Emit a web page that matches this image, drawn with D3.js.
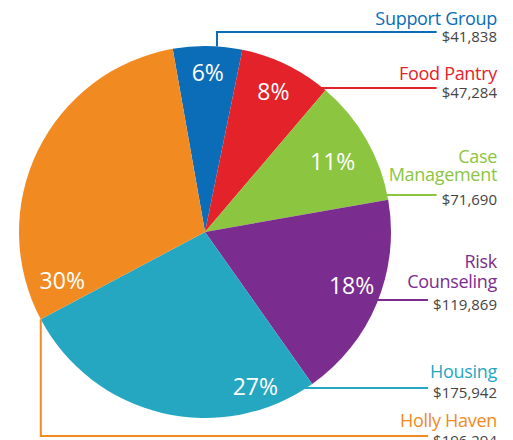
<!DOCTYPE html>
<html>
  <head>
    <script src="https://d3js.org/d3.v7.min.js"></script>
    <style>
      body { margin: 0; background: #fff; }
      text { font-family: "Open Sans", sans-serif; }
    </style>
  </head>
  <body>
    <script>
      // data
      var programs = ["Support Group", "Food Pantry", "Case Management", "Risk Counseling", "Housing", "Holly Haven"];
      var nameLines = [["Support Group"], ["Food Pantry"], ["Case", "Management"], ["Risk", "Counseling"], ["Housing"], ["Holly Haven"]];
      var amounts = [41838, 47284, 71690, 119869, 175942, 196294];
      var percents = [6, 8, 11, 18, 27, 30];
      var colors = ["#0b6db7", "#e3222a", "#8cc540", "#7a2d8e", "#26a7c1", "#f18b21"];

      var width = 513, height = 440;
      var cx = 205, cy = 232, r = 186;

      var svg = d3.select("body").append("svg")
        .attr("width", width)
        .attr("height", height);

      var rad = Math.PI / 180;
      var pie = d3.pie().sort(null)
        .startAngle(-10 * rad)
        .endAngle(350 * rad);
      var arcs = pie(percents);
      var arc = d3.arc().innerRadius(0).outerRadius(r);

      var g = svg.append("g").attr("transform", "translate(" + cx + "," + cy + ")");
      g.selectAll("path")
        .data(arcs)
        .enter()
        .append("path")
        .attr("d", arc)
        .attr("fill", function(d, i) { return colors[i]; });

      // percent labels: the picture places them by hand, so angle/radius per slice
      var labelAt = [[1, 159], [26, 156], [61, 146], [110, 156], [162, 163], [251, 151]];
      g.selectAll("text.pct")
        .data(arcs)
        .enter()
        .append("text")
        .attr("class", "pct")
        .attr("x", function(d, i) { return labelAt[i][1] * Math.sin(labelAt[i][0] * rad); })
        .attr("y", function(d, i) { return -labelAt[i][1] * Math.cos(labelAt[i][0] * rad); })
        .attr("dy", "0.36em")
        .attr("text-anchor", "middle")
        .attr("fill", "#fff")
        .attr("font-size", 23)
        .text(function(d) { return d.data + "%"; });

      // right-hand legend text and leader lines
      var textRight = 497;
      var nameBase = [[25], [80], [163, 181], [268, 288], [378], [427]];
      var lineY = [32, 88, 195, 300, 388, 436];
      var edgeX = function(y) { return cx + Math.sqrt(r * r - (y - cy) * (y - cy)); };
      var edgeY = function(x) { return cy - Math.sqrt(r * r - (x - cx) * (x - cx)); };
      var fmt = d3.format("$,");

      var lines = svg.append("g");
      var labels = svg.append("g");

      programs.forEach(function(p, i) {
        nameLines[i].forEach(function(t, j) {
          labels.append("text")
            .attr("x", textRight)
            .attr("y", nameBase[i][j])
            .attr("text-anchor", "end")
            .attr("fill", colors[i])
            .attr("font-size", 18)
            .attr("letter-spacing", -0.3)
            .text(t);
        });
        var money = labels.append("text")
          .attr("x", textRight)
          .attr("y", lineY[i] + 10)
          .attr("text-anchor", "end")
          .attr("fill", "#444")
          .attr("font-size", 15)
          .text(fmt(amounts[i]));
        var endX = textRight - money.node().getComputedTextLength() - 5;

        var pts;
        if (i === 0) {
          // goes up out of the blue slice
          pts = [[217, edgeY(217)], [217, lineY[i]], [endX, lineY[i]]];
        } else if (i === 5) {
          // drops down from the orange / teal boundary
          var b = arcs[5].startAngle;
          var bx = cx + r * Math.sin(b), by = cy - r * Math.cos(b);
          pts = [[bx, by], [bx, lineY[i]], [endX, lineY[i]]];
        } else {
          pts = [[edgeX(lineY[i]) - 2, lineY[i]], [endX, lineY[i]]];
        }
        lines.append("path")
          .attr("d", d3.line()(pts))
          .attr("fill", "none")
          .attr("stroke", colors[i])
          .attr("stroke-width", 2);
      });
    </script>
  </body>
</html>
